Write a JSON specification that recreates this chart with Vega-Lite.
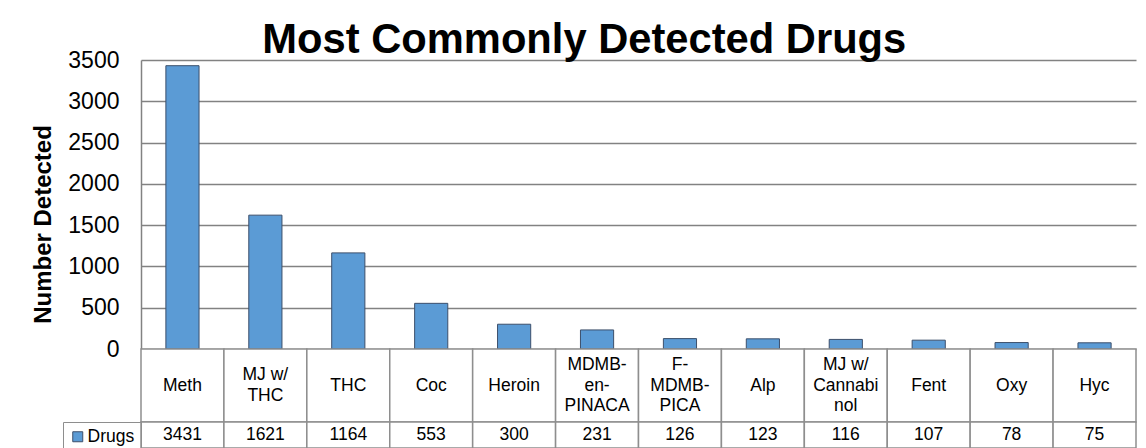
{
  "$schema": "https://vega.github.io/schema/vega-lite/v6.json",
  "padding": {"left": 31, "top": 20, "right": 5, "bottom": 0},
  "background": "white",
  "title": {"text": "Most Commonly Detected Drugs", "fontSize": 41.7, "font": "Liberation Sans", "fontWeight": "bold", "color": "black", "anchor": "middle", "frame": "bounds", "offset": -13},
  "config": {"font": "Liberation Sans", "view": {"stroke": null}},
  "datasets": {
    "drugs": [
      {"drug": "Meth", "label": "Meth", "value": 3431},
      {"drug": "MJ w/ THC", "label": "MJ w/|THC", "value": 1621},
      {"drug": "THC", "label": "THC", "value": 1164},
      {"drug": "Coc", "label": "Coc", "value": 553},
      {"drug": "Heroin", "label": "Heroin", "value": 300},
      {"drug": "MDMB-en-PINACA", "label": "MDMB-|en-|PINACA", "value": 231},
      {"drug": "F-MDMB-PICA", "label": "F-|MDMB-|PICA", "value": 126},
      {"drug": "Alp", "label": "Alp", "value": 123},
      {"drug": "MJ w/ Cannabinol", "label": "MJ w/|Cannabi|nol", "value": 116},
      {"drug": "Fent", "label": "Fent", "value": 107},
      {"drug": "Oxy", "label": "Oxy", "value": 78},
      {"drug": "Hyc", "label": "Hyc", "value": 75}
    ]
  },
  "data": {"name": "drugs"},
  "spacing": 0,
  "bounds": "flush",
  "resolve": {"scale": {"x": "independent", "color": "independent"}, "legend": {"color": "independent"}},
  "vconcat": [
    {
      "width": 995,
      "height": 289,
      "mark": {"type": "bar", "fill": "#5B9BD5", "stroke": "#3C4F6B", "strokeWidth": 1},
      "encoding": {
        "x": {"field": "drug", "type": "nominal", "sort": null, "axis": null, "scale": {"paddingInner": 0.6, "paddingOuter": 0.3}},
        "y": {
          "field": "value", "type": "quantitative",
          "scale": {"domain": [0, 3500], "nice": false},
          "axis": {
            "values": [0, 500, 1000, 1500, 2000, 2500, 3000, 3500],
            "format": "d",
            "title": "Number Detected",
            "titleFontSize": 24, "titleFontWeight": "bold", "titleColor": "black", "titlePadding": 12,
            "titleY": 164,
            "labelFontSize": 23, "labelColor": "black", "labelPadding": 22,
            "ticks": false,
            "domainColor": "#828282", "domainWidth": 1.5,
            "gridColor": "#828282", "gridWidth": 1.5, "grid": true
          }
        }
      }
    },
    {
      "width": 995,
      "height": 73,
      "encoding": {"x": {"field": "drug", "type": "nominal", "sort": null, "axis": null, "scale": {"paddingInner": 0, "paddingOuter": 0}}},
      "layer": [
        {"mark": {"type": "rect", "fill": "white", "stroke": "#8E8E8E", "strokeWidth": 1.5}},
        {
          "transform": [{"filter": "indexof(datum.label, '|') < 0"}],
          "mark": {"type": "text", "fontSize": 17.5, "color": "black", "baseline": "middle"},
          "encoding": {"text": {"field": "label", "type": "nominal"}}
        },
        {
          "transform": [{"filter": "indexof(datum.label, '|') >= 0 && indexof(datum.label, '|') == lastindexof(datum.label, '|')"}],
          "mark": {"type": "text", "fontSize": 17.5, "lineBreak": "|", "lineHeight": 20.5, "color": "black", "baseline": "middle", "dy": -10.25},
          "encoding": {"text": {"field": "label", "type": "nominal"}}
        },
        {
          "transform": [{"filter": "indexof(datum.label, '|') != lastindexof(datum.label, '|')"}],
          "mark": {"type": "text", "fontSize": 17.5, "lineBreak": "|", "lineHeight": 20.5, "color": "black", "baseline": "middle", "dy": -20.5},
          "encoding": {"text": {"field": "label", "type": "nominal"}}
        }
      ]
    },
    {
      "width": 995,
      "height": 26,
      "encoding": {"x": {"field": "drug", "type": "nominal", "sort": null, "axis": null, "scale": {"paddingInner": 0, "paddingOuter": 0}}},
      "layer": [
        {"mark": {"type": "rect", "fill": "white", "stroke": "#8E8E8E", "strokeWidth": 1.5}},
        {"mark": {"type": "text", "fontSize": 17.5, "color": "black", "baseline": "middle"}, "encoding": {"text": {"field": "value", "type": "quantitative", "format": "d"}}},
        {
          "mark": {"type": "square", "opacity": 0},
          "encoding": {
            "color": {
              "datum": "Drugs",
              "scale": {"range": ["#5B9BD5"]},
              "legend": {
                "title": null, "orient": "left", "offset": 0, "padding": 6,
                "strokeColor": "#8E8E8E",
                "symbolType": "square", "symbolSize": 100, "symbolOpacity": 1,
                "symbolStrokeColor": "#3C4F6B", "symbolStrokeWidth": 1,
                "labelFontSize": 17.5, "labelColor": "black", "labelOffset": 1
              }
            }
          }
        }
      ]
    }
  ]
}
